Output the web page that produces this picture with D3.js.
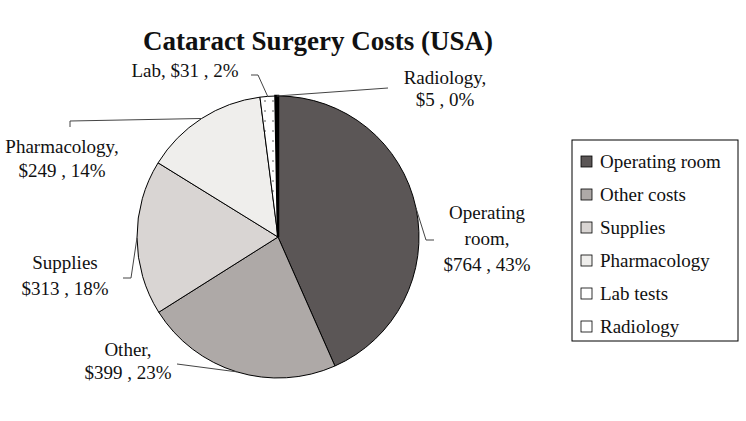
<!DOCTYPE html>
<html>
<head>
<meta charset="utf-8">
<script src="https://cdn.jsdelivr.net/npm/d3@7"></script>
<style>
  body { margin: 0; background: #fff; }
  text { font-family: "Liberation Serif", "DejaVu Serif", serif; fill: #111; }
</style>
</head>
<body>
<script>
// Chart data
const categories = ['Operating room', 'Other costs', 'Supplies', 'Pharmacology', 'Lab tests', 'Radiology'];
const costs = [764, 399, 313, 249, 31, 5];
const percents = [43, 23, 18, 14, 2, 0];
const labelNames = [['Operating', 'room,'], ['Other,'], ['Supplies'], ['Pharmacology,'], ['Lab,'], ['Radiology,']];
const fills = ['#5b5656', '#aea9a7', '#d9d5d3', '#efeeec', '#ffffff', '#ffffff'];

const width = 746, height = 421;
const cx = 278, cy = 237, r = 141;

// label placement (layout only): text anchor point + elbow of leader line
const labelLayout = [
  { x: 487, y: 219, gap: 26, elbow: [[426, 240], [434, 240]] },
  { x: 128, y: 356, gap: 23, elbow: [[177, 364]] },
  { x: 65, y: 269, gap: 26, elbow: [[131, 278], [123, 278]] },
  { x: 62, y: 153, gap: 24, elbow: [[70, 121], [70, 127]] },
  { x: 185, y: 77, inline: true, elbow: [[258, 75], [251, 75]] },
  { x: 445, y: 84, gap: 22, elbow: [[388, 88]] }
];

const svg = d3.select('body').append('svg')
  .attr('width', width)
  .attr('height', height);

// dotted pattern for Lab slice
const defs = svg.append('defs');
const pat = defs.append('pattern')
  .attr('id', 'dots')
  .attr('width', 8).attr('height', 10)
  .attr('patternUnits', 'userSpaceOnUse');
pat.append('rect').attr('width', 8).attr('height', 10).attr('fill', '#fff');
pat.append('circle').attr('cx', 3).attr('cy', 4).attr('r', 0.9).attr('fill', '#888');

// Title
svg.append('text')
  .attr('x', 318).attr('y', 50)
  .attr('text-anchor', 'middle')
  .style('font-size', '27px')
  .style('font-weight', 'bold')
  .text('Cataract Surgery Costs (USA)');

const pie = d3.pie().sort(null).value(d => d);
const arcs = pie(costs);
const arc = d3.arc().innerRadius(0).outerRadius(r);

const g = svg.append('g').attr('transform', `translate(${cx},${cy})`);

g.selectAll('path.slice')
  .data(arcs)
  .enter().append('path')
  .attr('class', 'slice')
  .attr('d', arc)
  .attr('fill', (d, i) => i === 4 ? 'url(#dots)' : fills[i])
  .attr('stroke', '#000')
  .attr('stroke-width', (d, i) => i === 5 ? 2.5 : 1);

// Leader lines and labels
const line = d3.line();
arcs.forEach((d, i) => {
  const mid = (d.startAngle + d.endAngle) / 2;
  const start = [cx + r * Math.sin(mid), cy - r * Math.cos(mid)];
  const lay = labelLayout[i];
  const pts = [start].concat(lay.elbow);
  svg.append('path')
    .attr('d', line(pts))
    .attr('fill', 'none')
    .attr('stroke', '#444')
    .attr('stroke-width', 1);

  const valueLine = `$${costs[i]} , ${percents[i]}%`;
  const lines = lay.inline ? [labelNames[i][0] + ' ' + valueLine] : labelNames[i].concat([valueLine]);
  const t = svg.append('text')
    .attr('text-anchor', 'middle')
    .style('font-size', '19px');
  lines.forEach((s, k) => {
    t.append('tspan')
      .attr('x', lay.x)
      .attr('y', lay.y + k * (lay.gap || 0))
      .text(s);
  });
});

// Legend
const legend = svg.append('g').attr('transform', 'translate(572,140)');
legend.append('rect')
  .attr('width', 166).attr('height', 201)
  .attr('fill', '#fff')
  .attr('stroke', '#000')
  .attr('stroke-width', 1);

const ly = d3.scalePoint().domain(categories).range([22, 187]);
const items = legend.selectAll('g.item')
  .data(categories)
  .enter().append('g')
  .attr('class', 'item')
  .attr('transform', d => `translate(0,${ly(d)})`);

items.append('rect')
  .attr('x', 9).attr('y', -6)
  .attr('width', 11).attr('height', 11)
  .attr('fill', (d, i) => fills[i])
  .attr('stroke', '#000')
  .attr('stroke-width', 0.8);

items.append('text')
  .attr('x', 28).attr('y', 6)
  .style('font-size', '19px')
  .text(d => d);
</script>
</body>
</html>
